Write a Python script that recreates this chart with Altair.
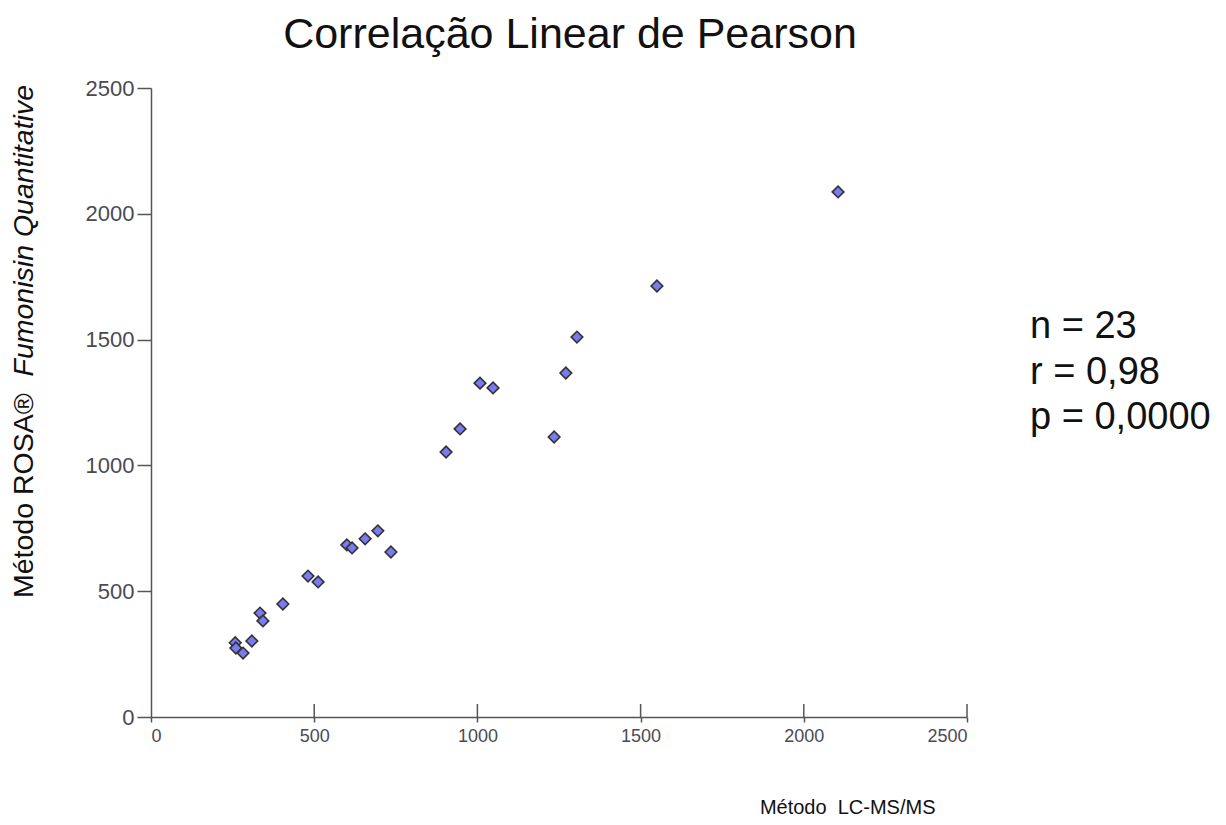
import altair as alt
import pandas as pd

# Data
lc_msms = [258, 260, 282, 309, 334, 343, 404, 481, 512, 600, 616, 656, 695, 735,
           904, 947, 1008, 1048, 1235, 1271, 1305, 1550, 2105]
rosa = [295, 274, 254, 302, 413, 382, 449, 560, 537, 684, 672, 708, 740, 656,
        1053, 1145, 1327, 1308, 1113, 1367, 1510, 1713, 2087]
tick_values = [0, 500, 1000, 1500, 2000, 2500]
stats_lines = ["n = 23", "r = 0,98", "p = 0,0000"]
title_text = "Correlação Linear de Pearson"
y_title_plain = "Método ROSA®"
y_title_italic = "Fumonisin Quantitative"
x_title = "Método\u00a0 LC-MS/MS"

W, H = 816, 629
FONT = "Liberation Sans, Arial, sans-serif"
AXIS_GRAY = "#555555"
LABEL_GRAY = "#4a4a55"

df = pd.DataFrame({"lc": lc_msms, "rosa": rosa})
ticks_df = pd.DataFrame({"t": tick_values[1:]})
stats_df = pd.DataFrame({"label": stats_lines, "row": list(range(len(stats_lines)))})

xscale = alt.Scale(domain=[0, 2500], nice=False, zero=True)
yscale = alt.Scale(domain=[0, 2500], nice=False, zero=True)

x_axis = alt.Axis(
    values=tick_values, format="d", tickSize=5, labelPadding=5,
    labelFont=FONT, labelFontSize=18, labelColor=LABEL_GRAY,
    domainColor=AXIS_GRAY, tickColor=AXIS_GRAY, domainWidth=1.5, tickWidth=1.5,
    grid=False, title=x_title, titleFont=FONT, titleFontSize=20,
    titleFontWeight="normal", titleColor="#111111", titleAnchor="start",
    titleAlign="right", titleX=784, titleY=90, titleBaseline="middle")

points = alt.Chart(df).mark_point(
    shape="diamond", filled=True, size=135, fill="#7A7AF2", stroke="#333333",
    strokeWidth=1.6, opacity=1
).encode(
    x=alt.X("lc:Q", scale=xscale, axis=x_axis),
    y=alt.Y("rosa:Q", scale=yscale, axis=alt.Axis(
        values=tick_values, format="d", tickSize=14, labelPadding=3,
        labelFont=FONT, labelFontSize=22, labelColor=LABEL_GRAY,
        domainColor=AXIS_GRAY, tickColor=AXIS_GRAY, domainWidth=1.5, tickWidth=1.5,
        grid=False, title=None)),
)

inner_ticks = alt.Chart(ticks_df).mark_rule(color=AXIS_GRAY, strokeWidth=1.5).encode(
    x=alt.X("t:Q", scale=xscale, axis=x_axis),
    y=alt.value(H - 13),
    y2=alt.value(H),
)

stats = alt.Chart(stats_df).mark_text(
    align="left", baseline="middle", font=FONT, fontSize=38, color="#111111"
).encode(
    x=alt.value(879),
    y=alt.Y("row:Q", scale=alt.Scale(domain=[0, 2], range=[239, 330]), axis=None),
    text="label:N",
)

title = alt.Chart(pd.DataFrame({"s": [title_text]})).mark_text(
    align="center", baseline="alphabetic", font=FONT, fontSize=43, color="#111111"
).encode(x=alt.value(419), y=alt.value(-40), text="s:N")

ytitle_a = alt.Chart(pd.DataFrame({"s": [y_title_plain]})).mark_text(
    align="left", baseline="middle", angle=270, font=FONT, fontSize=28.5, color="#111111"
).encode(x=alt.value(-127), y=alt.value(510), text="s:N")

ytitle_b = alt.Chart(pd.DataFrame({"s": [y_title_italic]})).mark_text(
    align="right", baseline="middle", angle=270, font=FONT, fontSize=28.5,
    fontStyle="italic", color="#111111"
).encode(x=alt.value(-127), y=alt.value(-3), text="s:N")

chart = alt.layer(points, inner_ticks, stats, title, ytitle_a, ytitle_b).resolve_scale(
    y="independent"
).properties(
    width=W, height=H,
    autosize=alt.AutoSizeParams(type="none"),
    padding={"left": 143, "top": 80, "right": 251, "bottom": 100},
).configure(background="white").configure_view(stroke=None)

chart.save("out.html", embed_options={"renderer": "svg", "actions": False})
